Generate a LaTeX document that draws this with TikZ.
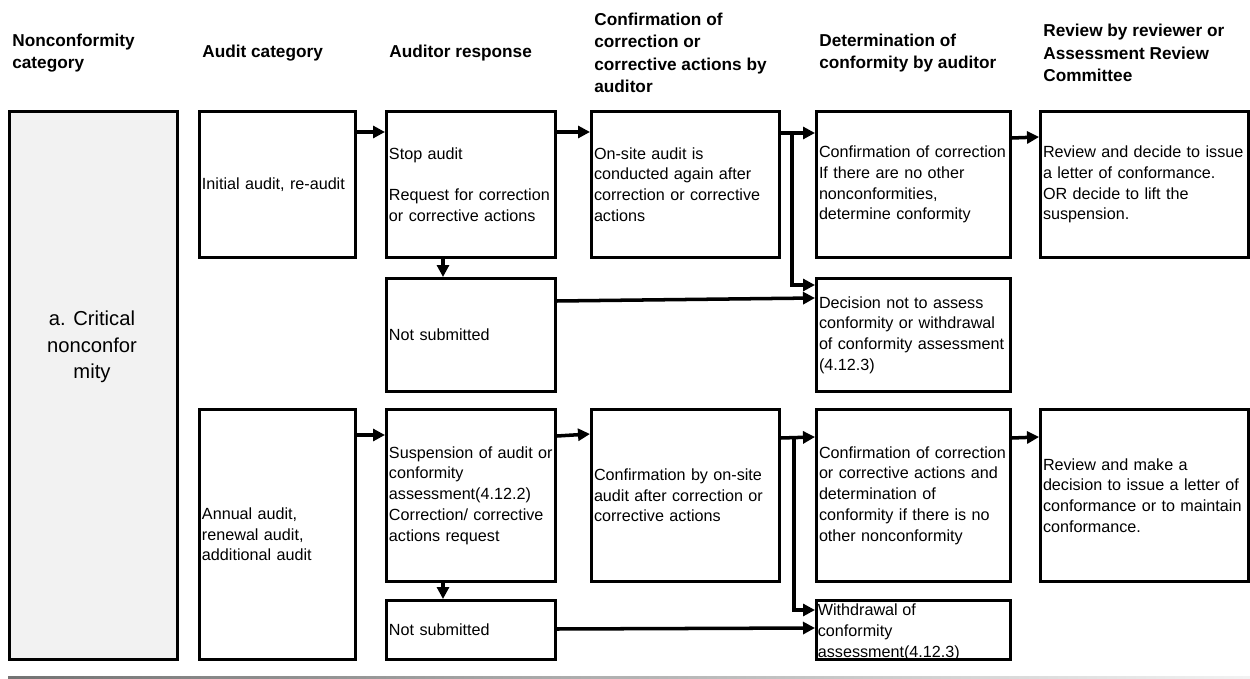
\documentclass[tikz,border=0pt]{standalone}
\usepackage{fontspec}
\setmainfont{Liberation Sans}
\usetikzlibrary{arrows.meta}
\definecolor{boxgray}{HTML}{F2F2F2}
\newcommand\bodyfont{\fontsize{9.2}{11.8}\selectfont}
\newcommand\headfont{\bfseries\fontsize{9.8}{12.8}\selectfont}
\begin{document}
\begin{tikzpicture}[x=0.02cm, y=-0.02cm,
        box/.style={draw, line width=1.7pt, anchor=north west, inner xsep=0.05cm, inner ysep=0pt, align=left, font=\bodyfont},
        hd/.style={anchor=west, align=left, inner sep=0pt, font=\headfont},
        arr/.style={-{Triangle[length=0.24cm, width=0.24cm]}, line width=2pt}]
        \useasboundingbox (0,0) rectangle (1250,679);

        \node[hd] (H1) at (12,53) {Nonconformity\\category};
        \node[hd] (H2) at (202,53) {Audit category};
        \node[hd] (H3) at (389,53) {Auditor response};
        \node[hd] (H4) at (594,53) {Confirmation of\\correction or\\corrective actions by\\auditor};
        \node[hd] (H5) at (819,53) {Determination of\\conformity by auditor};
        \node[hd] (H6) at (1043,53) {Review by reviewer or\\Assessment Review\\Committee};

        \node[box, fill=boxgray, minimum width=3.36cm, minimum height=10.96cm] (N) at (8,110) {};
        \node[align=center, font=\fontsize{11.5}{15}\selectfont] (L) at (92,347) {a. Critical\\nonconfor\\mity};

        \node[box, text width=3.02cm, minimum height=2.92cm] (A1) at (198,110) {Initial audit, re-audit};
        \node[box, text width=3.02cm, minimum height=5cm] (A2) at (198,408) {Annual audit,\\renewal audit,\\additional audit};

        \node[box, text width=3.28cm, minimum height=2.92cm] (R1) at (385,110) {Stop audit\\[11.8pt]Request for correction\\or corrective actions};
        \node[box, text width=3.28cm, minimum height=2.26cm] (S1) at (385,277) {Not submitted};
        \node[box, text width=3.28cm, minimum height=3.44cm] (R2) at (385,408) {Suspension of audit or\\conformity\\assessment(4.12.2)\\Correction/ corrective\\actions request};
        \node[box, text width=3.28cm, minimum height=1.18cm] (S2) at (385,599) {Not submitted};

        \node[box, text width=3.66cm, minimum height=2.92cm] (C1) at (590,110) {On-site audit is\\conducted again after\\correction or corrective\\actions};
        \node[box, text width=3.66cm, minimum height=3.44cm] (C2) at (590,408) {Confirmation by on-site\\audit after correction or\\corrective actions};

        \node[box, text width=3.78cm, minimum height=2.92cm] (D1) at (815,110) {Confirmation of correction\\If there are no other\\nonconformities,\\determine conformity};
        \node[box, text width=3.78cm, minimum height=2.26cm] (D2) at (815,277) {Decision not to assess\\conformity or withdrawal\\of conformity assessment\\(4.12.3)};
        \node[box, text width=3.78cm, minimum height=3.44cm] (D3) at (815,408) {Confirmation of correction\\or corrective actions and\\determination of\\conformity if there is no\\other nonconformity};
        \node[box, minimum width=3.88cm, minimum height=1.18cm] (D4) at (815,599) {};
        \begin{scope}
        \clip (D4.north west) rectangle (D4.south east);
        \node[anchor=west, align=left, inner xsep=0.05cm, inner ysep=0pt, font=\bodyfont] (W) at ([yshift=-0.05cm]D4.west) {Withdrawal of\\conformity\\assessment(4.12.3)};
        \end{scope}

        \node[box, text width=4.06cm, minimum height=2.92cm] (V1) at (1039,110) {Review and decide to issue\\a letter of conformance.\\OR decide to lift the\\suspension.};
        \node[box, text width=4.06cm, minimum height=3.44cm] (V2) at (1039,408) {Review and make a\\decision to issue a letter of\\conformance or to maintain\\conformance.};

        \draw[arr] ([yshift=-0.44cm]A1.north east) -- ([yshift=-0.44cm]R1.north west);
        \draw[arr] ([yshift=-0.44cm]R1.north east) -- ([yshift=-0.44cm]C1.north west);
        \draw[arr] ([yshift=-0.46cm]C1.north east) -- ([yshift=-0.46cm]D1.north west);
        \draw[arr] ([xshift=0.22cm, yshift=-0.46cm]C1.north east) |- ([yshift=-0.16cm]D2.north west);
        \draw[arr] ([xshift=1.16cm]R1.south west) -- ([xshift=1.16cm]S1.north west);
        \draw[arr] ([yshift=-0.48cm]S1.north east) -- ([yshift=-0.42cm]D2.north west);
        \draw[arr] ([yshift=-0.56cm]D1.north east) -- ([yshift=-0.54cm]V1.north west);

        \draw[arr] ([yshift=-0.54cm]A2.north east) -- ([yshift=-0.54cm]R2.north west);
        \draw[arr] ([yshift=-0.56cm]R2.north east) -- ([yshift=-0.52cm]C2.north west);
        \draw[arr] ([yshift=-0.6cm]C2.north east) -- ([yshift=-0.58cm]D3.north west);
        \draw[arr] ([xshift=0.26cm, yshift=-0.6cm]C2.north east) |- ([yshift=-0.22cm]D4.north west);
        \draw[arr] ([xshift=1.16cm]R2.south west) -- ([xshift=1.16cm]S2.north west);
        \draw[arr] ([yshift=-0.6cm]S2.north east) -- ([yshift=-0.58cm]D4.north west);
        \draw[arr] ([yshift=-0.6cm]D3.north east) -- ([yshift=-0.58cm]V2.north west);

        \shade[left color=black!55, right color=black!5] (8,676.5) rectangle (1250,679);
        \end{tikzpicture}
\end{document}
